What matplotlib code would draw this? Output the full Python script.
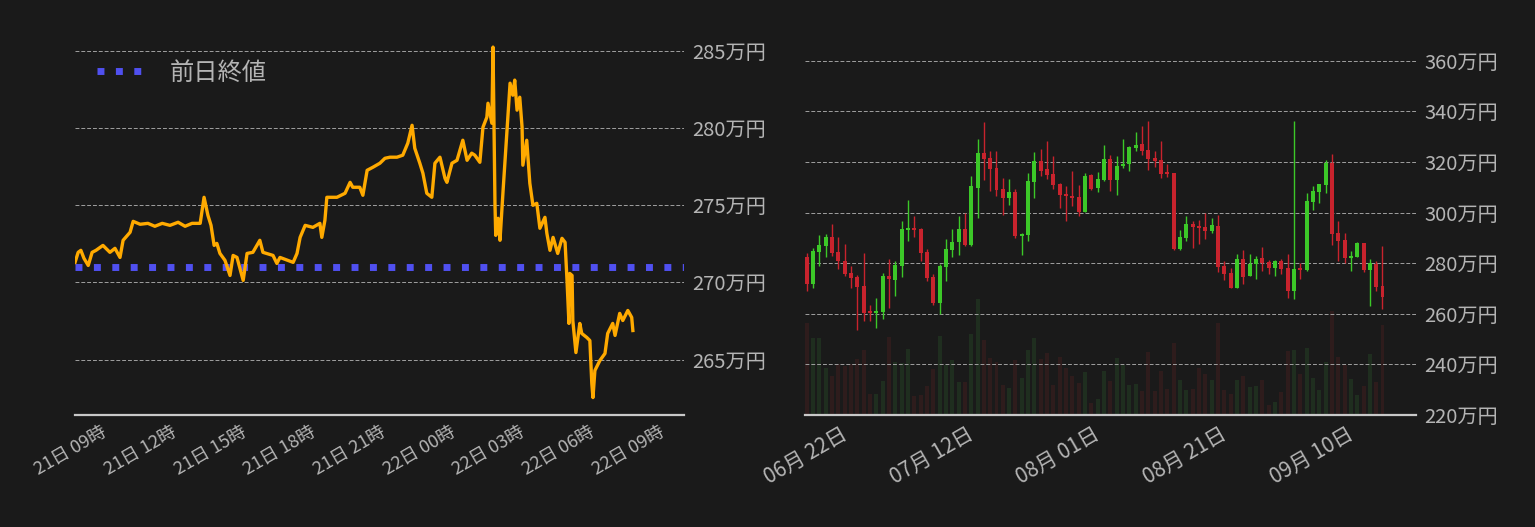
import pandas as pd
import matplotlib
matplotlib.use('Agg')
import matplotlib.pyplot as plt
import matplotlib.dates as mdates

plt.rcParams['font.family'] = ['Noto Sans CJK JP', 'DejaVu Sans']

# intraday price (minutes after 21日 07:30, 万円)
minutes = [0, 8, 15, 23, 34, 44, 54, 72, 90, 103, 116, 124, 142, 150, 168, 188, 206, 225, 245, 266,
           284, 302, 323, 333, 343, 351, 359, 366, 374, 387, 400, 408, 418, 434, 444, 459, 477, 485, 511, 521,
           529, 563, 573, 581, 594, 614, 632, 637, 645, 650, 676, 697, 710, 717, 735, 743, 754, 769, 787, 800,
           813, 831, 846, 859, 870, 877, 890, 898, 908, 921, 929, 942, 955, 960, 973, 986, 1001, 1012, 1024, 1032,
           1045, 1053, 1063, 1066, 1076, 1079, 1084, 1086, 1092, 1097, 1105, 1115, 1123, 1130, 1135, 1141, 1148, 1154, 1156, 1166,
           1174, 1182, 1192, 1200, 1213, 1218, 1226, 1234, 1246, 1257, 1265, 1270, 1275, 1277, 1283, 1285, 1293, 1303, 1308, 1321,
           1329, 1334, 1337, 1342, 1355, 1368, 1375, 1388, 1394, 1406, 1414, 1427, 1437, 1440]
prices = [271.30, 271.95, 272.08, 271.56, 271.10, 271.95, 272.08, 272.40, 271.95, 272.21, 271.62, 272.73, 273.25, 273.96, 273.77, 273.83, 273.64, 273.83, 273.70, 273.90,
          273.64, 273.83, 273.83, 275.52, 274.35, 273.70, 272.40, 272.53, 271.88, 271.43, 270.45, 271.75, 271.62, 270.13, 271.88, 271.95, 272.73, 271.95, 271.75, 271.23,
          271.62, 271.30, 271.88, 272.92, 273.70, 273.57, 273.83, 272.92, 274.03, 275.52, 275.52, 275.78, 276.49, 276.17, 276.17, 275.65, 277.27, 277.47, 277.73, 278.05,
          278.12, 278.12, 278.25, 279.03, 280.19, 278.70, 277.73, 277.08, 275.78, 275.52, 277.73, 278.12, 276.75, 276.49, 277.73, 277.92, 279.22, 277.92, 278.38, 278.25,
          277.79, 280.06, 280.71, 281.62, 280.32, 285.26, 275.13, 273.05, 274.16, 272.73, 275.97, 279.87, 282.92, 282.14, 283.12, 281.17, 282.01, 280.06, 277.60, 279.22,
          276.43, 275.00, 275.13, 273.51, 274.22, 273.18, 272.08, 272.92, 271.88, 272.86, 272.60, 270.13, 267.34, 270.58, 270.45, 267.53, 265.45, 267.34, 266.69, 266.43,
          266.23, 263.44, 262.53, 264.29, 264.94, 265.39, 266.69, 267.34, 266.56, 267.99, 267.53, 268.18, 267.73, 266.88]
prev_close = 271.0

# daily candles (万円)
opens = [282.5, 271.6, 284.6, 287.0, 290.4, 284.5, 280.9, 276.2, 274.6, 271.0, 261.3, 260.5, 260.9, 275.0, 273.2, 279.1, 293.3, 293.9, 293.6, 284.5,
         274.6, 264.1, 278.7, 285.4, 288.2, 293.6, 287.4, 309.9, 323.6, 321.6, 317.6, 309.3, 305.9, 308.2, 290.9, 291.3, 312.2, 320.4, 317.2, 315.3,
         311.3, 307.0, 306.4, 306.2, 300.4, 314.9, 309.6, 313.0, 321.2, 313.0, 318.3, 319.2, 325.7, 327.1, 324.7, 321.6, 320.8, 315.8, 315.7, 285.8,
         290.1, 295.5, 294.9, 294.3, 292.9, 294.7, 278.9, 276.2, 270.4, 281.7, 275.1, 279.6, 282.0, 280.4, 278.3, 280.8, 278.2, 269.2, 278.2, 277.4,
         304.2, 308.3, 310.9, 319.7, 292.0, 289.2, 282.2, 282.6, 288.0, 277.5, 279.7, 271.0]
highs = [284.1, 286.1, 291.2, 291.6, 295.5, 290.4, 287.6, 278.9, 275.4, 284.1, 263.3, 266.1, 276.2, 281.7, 280.8, 296.7, 305.0, 298.7, 293.9, 285.7,
         275.8, 279.7, 289.6, 293.6, 298.7, 299.9, 314.5, 329.1, 335.8, 324.3, 324.3, 313.7, 313.3, 309.3, 292.0, 315.7, 323.9, 325.1, 328.3, 322.4,
         311.6, 310.5, 316.4, 310.9, 315.7, 315.3, 316.1, 326.7, 322.8, 322.4, 329.1, 326.3, 331.8, 334.2, 336.2, 324.3, 328.3, 319.2, 315.8, 293.2,
         298.7, 296.7, 297.1, 299.9, 297.9, 299.1, 280.9, 278.2, 283.7, 285.3, 283.7, 282.9, 286.4, 281.3, 281.1, 281.7, 283.7, 336.2, 280.1, 307.8,
         310.5, 311.5, 320.8, 323.2, 296.7, 292.0, 284.9, 288.4, 288.0, 281.7, 280.9, 286.8]
lows = [269.2, 270.4, 279.1, 282.6, 283.0, 277.9, 275.1, 270.4, 253.6, 257.0, 257.0, 254.3, 257.8, 262.5, 267.2, 274.7, 288.9, 290.5, 280.9, 272.8,
        263.3, 260.0, 272.8, 282.6, 283.4, 286.8, 287.0, 298.0, 313.0, 308.7, 306.7, 299.2, 303.0, 290.1, 283.4, 288.6, 305.9, 314.6, 313.4, 309.5,
        302.0, 296.8, 302.8, 298.6, 300.1, 309.1, 308.3, 312.6, 308.7, 307.1, 317.6, 316.6, 324.5, 322.9, 317.0, 318.2, 313.8, 314.2, 285.4, 285.4,
        288.9, 286.2, 287.8, 289.7, 292.1, 276.7, 273.2, 270.2, 270.2, 271.6, 275.0, 273.9, 277.1, 275.9, 275.1, 275.9, 266.4, 265.7, 273.9, 277.0,
        301.2, 303.9, 307.9, 287.4, 280.7, 279.9, 277.1, 282.5, 276.7, 262.9, 269.2, 262.1]
closes = [271.6, 284.9, 287.2, 290.4, 284.2, 280.7, 275.9, 274.3, 270.8, 260.5, 260.5, 261.3, 275.0, 273.6, 279.3, 293.6, 293.9, 293.3, 284.2, 274.3,
          264.1, 278.9, 285.7, 288.4, 293.6, 287.4, 310.5, 323.6, 321.3, 317.2, 309.1, 305.9, 308.2, 290.9, 291.6, 312.5, 320.4, 316.6, 315.0, 311.1,
          307.1, 306.7, 305.9, 300.4, 314.5, 309.3, 313.3, 321.2, 313.0, 318.4, 319.2, 325.9, 326.7, 324.5, 321.3, 320.5, 315.4, 315.4, 285.8, 290.4,
          295.5, 294.3, 294.1, 292.9, 295.1, 278.7, 275.9, 270.4, 281.7, 274.7, 279.7, 281.6, 280.1, 278.3, 280.7, 277.9, 269.2, 277.8, 277.4, 304.6,
          308.6, 311.3, 319.7, 291.7, 288.9, 282.2, 282.9, 288.0, 277.5, 280.1, 270.8, 266.8]
volumes = [275, 231, 231, 140, 117, 153, 148, 153, 168, 195, 63, 63, 102, 233, 159, 156, 198, 57, 60, 87,
           137, 237, 150, 165, 99, 99, 243, 348, 225, 171, 159, 90, 81, 165, 111, 195, 231, 168, 186, 90,
           174, 141, 117, 95, 129, 36, 48, 132, 102, 171, 150, 90, 93, 72, 189, 72, 132, 78, 216, 105,
           75, 78, 141, 123, 105, 276, 75, 63, 105, 117, 84, 87, 105, 30, 39, 69, 192, 195, 123, 201,
           111, 75, 159, 312, 174, 150, 108, 60, 87, 183, 99, 270]
days = pd.date_range('2023-06-15', periods=len(opens), freq='D')

BG = '#1a1a1a'
TXT = '#b4b4b4'
UP = '#3cc828'
DOWN = '#c8232d'
GRID = dict(linestyle=(0, (4, 2)), linewidth=0.7, color='#a0a0a0')

fig = plt.figure(figsize=(15.35, 5.27), dpi=100, facecolor=BG)
ax1 = fig.add_axes([0.0489, 0.2125, 0.3967, 0.7344], facecolor=BG)
ax2 = fig.add_axes([0.5244, 0.2125, 0.3981, 0.7344], facecolor=BG)


def style(ax):
    for s in ['top', 'left', 'right']:
        ax.spines[s].set_visible(False)
    ax.spines['bottom'].set_color('#c8c8c8')
    ax.spines['bottom'].set_linewidth(1.6)
    ax.yaxis.tick_right()
    ax.tick_params(length=0, colors=TXT)
    ax.yaxis.grid(True, **GRID)
    ax.set_axisbelow(True)


# ---- left: intraday line
start = pd.Timestamp('2023-09-21 07:30')
times = start + pd.to_timedelta(minutes, unit='m')
ax1.plot(times, prices, color='#ffaa00', lw=2.4, zorder=3)
ax1.axhline(prev_close, color='#5050f0', lw=5, linestyle=':', label='前日終値', zorder=2)
style(ax1)
ax1.set_xlim(start, start + pd.Timedelta(hours=26.2))
ax1.set_ylim(261.4, 286.5)
ax1.set_yticks([265, 270, 275, 280, 285])
ax1.set_yticklabels([f'{v}万円' for v in [265, 270, 275, 280, 285]], fontsize=14.5)
ax1.tick_params(axis='y', pad=6)
ax1.xaxis.set_major_locator(mdates.HourLocator(byhour=[0, 3, 6, 9, 12, 15, 18, 21]))
ax1.xaxis.set_major_formatter(mdates.DateFormatter('%d日 %H時'))
ax1.tick_params(axis='x', labelsize=13, pad=6)
plt.setp(ax1.get_xticklabels(), rotation=30, ha='right')
leg = ax1.legend(loc='upper left', bbox_to_anchor=(0, 0.975), frameon=False, fontsize=17.5,
                 handlelength=1.85, handletextpad=1.15)
for t in leg.get_texts():
    t.set_color(TXT)

# ---- right: daily candles + volume
axv = ax2.twinx()
ax2.set_zorder(axv.get_zorder() + 1)
ax2.patch.set_visible(False)
axv.set_facecolor(BG)
for s in axv.spines.values():
    s.set_visible(False)
axv.set_yticks([])

x = mdates.date2num(days)
up = [c >= o for o, c in zip(opens, closes)]
cols = [UP if u else DOWN for u in up]
vcols = ['#1f2e1f' if u else '#2e1c1c' for u in up]
axv.bar(x, volumes, width=0.63, color=vcols)
axv.set_ylim(0, 1161)

ax2.vlines(x, lows, highs, colors=cols, lw=1, zorder=3)
bottoms = [min(o, c) for o, c in zip(opens, closes)]
heights = [max(abs(c - o), 0.6) for o, c in zip(opens, closes)]
ax2.bar(x, heights, bottom=bottoms, width=0.63, color=cols, zorder=4)
style(ax2)
ax2.set_xlim(x[0] - 0.27, x[-1] + 5.3)
axv.set_xlim(x[0] - 0.27, x[-1] + 5.3)
ax2.set_ylim(220, 373)
yt = list(range(220, 361, 20))
ax2.set_yticks(yt)
ax2.set_yticklabels([f'{v}万円' for v in yt], fontsize=14.5)
ax2.tick_params(axis='y', pad=6)
ticks = pd.to_datetime(['2023-06-22', '2023-07-12', '2023-08-01', '2023-08-21', '2023-09-10'])
ax2.set_xticks(mdates.date2num(ticks))
ax2.set_xticklabels([d.strftime('%m月 %d日') for d in ticks], fontsize=15)
ax2.tick_params(axis='x', pad=6)
plt.setp(ax2.get_xticklabels(), rotation=30, ha='right')

fig.savefig('out.png', dpi=100, facecolor=BG)
